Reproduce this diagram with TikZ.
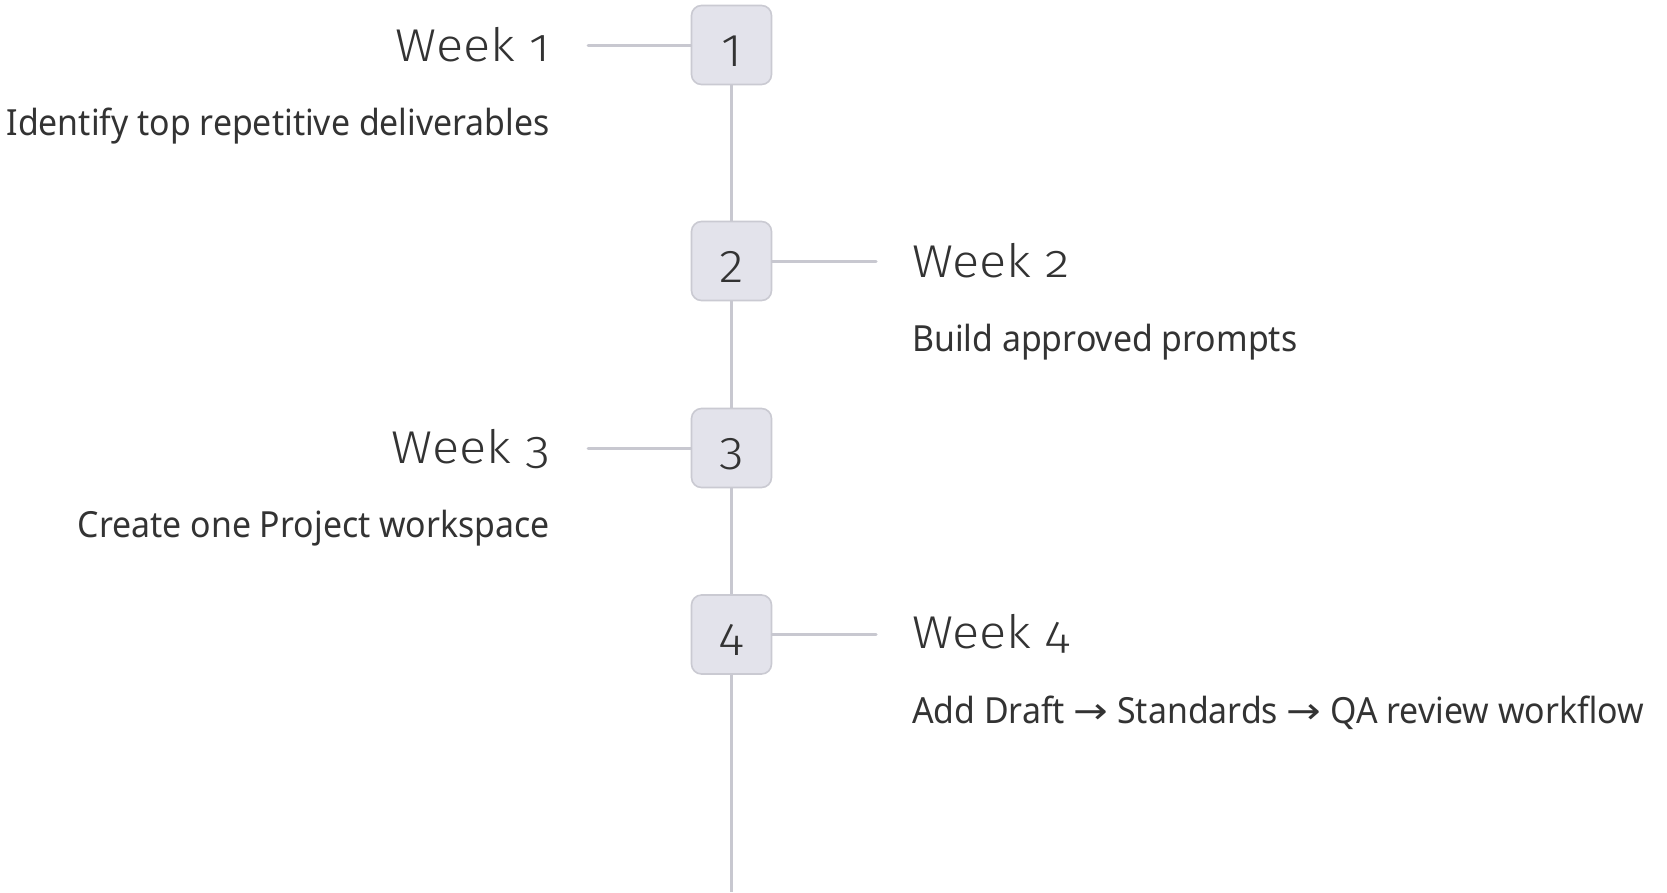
\documentclass[tikz,border=0pt]{standalone}
\usepackage{fontspec}
\setmainfont{Noto Sans}[FakeStretch=0.94]
\newfontfamily\weekfont{Fira Sans}[UprightFont={* Light},Numbers=OldStyle,FakeStretch=1.1]
\newfontfamily\numfont{Fira Sans}[UprightFont={* Light},FakeStretch=1.1]
\newfontfamily\arrowfont{DejaVu Sans}[FakeStretch=1.15]
\definecolor{ink}{HTML}{333333}
\definecolor{rail}{HTML}{C8C8D0}
\definecolor{boxfill}{HTML}{E3E3EB}
\definecolor{boxline}{HTML}{CACAD2}
\begin{document}
\begin{tikzpicture}[x=1pt,y=-1pt,
  stepbox/.style={draw=boxline,fill=boxfill,line width=1.6pt,rounded corners=10pt,
    minimum width=80pt,minimum height=79pt,inner sep=0pt,text=ink,
    text height=42pt,text depth=0pt,
    font=\numfont\fontsize{46}{46}\selectfont},
  railline/.style={draw=rail,line width=3pt},
  weeklbl/.style={inner sep=0pt,text=ink,font=\weekfont\fontsize{46}{46}\selectfont},
  desclbl/.style={inner sep=0pt,text=ink,font=\fontsize{36}{36}\selectfont}]
\useasboundingbox[fill=white] (0,0) rectangle (1667,892);
% boxes
\node[stepbox] (b1) at (731.5,45) {1};
\node[stepbox] (b2) at (731.5,261) {2};
\node[stepbox] (b3) at (731.5,448) {3};
\node[stepbox] (b4) at (731.5,634.5) {4};
\coordinate (bot) at (731.5,892);
\coordinate (c1) at (588,45);
\coordinate (c2) at (876,261);
\coordinate (c3) at (588,448);
\coordinate (c4) at (876,634.5);
\draw[railline] (b1.south) -- (b2.north);
\draw[railline] (b2.south) -- (b3.north);
\draw[railline] (b3.south) -- (b4.north);
\draw[railline] (b4.south) -- (bot);
\draw[railline,line cap=round] (b1.west) -- (c1);
\draw[railline,line cap=round] (b2.east) -- (c2);
\draw[railline,line cap=round] (b3.west) -- (c3);
\draw[railline,line cap=round] (b4.east) -- (c4);
% labels
\node[weeklbl,anchor=base east] (w1) at (550,61) {Week 1};
\node[weeklbl,anchor=base west] (w2) at (912,277) {Week 2};
\node[weeklbl,anchor=base east] (w3) at (550,463) {Week 3};
\node[weeklbl,anchor=base west] (w4) at (912,648) {Week 4};
\node[desclbl,anchor=base east] (d1) at (550,135) {Identify top repetitive deliverables};
\node[desclbl,anchor=base west] (d2) at (912,351) {Build approved prompts};
\node[desclbl,anchor=base east] (d3) at (550,537) {Create one Project workspace};
\node[desclbl,anchor=base west] (d4) at (912,723) {Add Draft {\arrowfont→} Standards {\arrowfont→} QA review workflow};
\end{tikzpicture}
\end{document}
